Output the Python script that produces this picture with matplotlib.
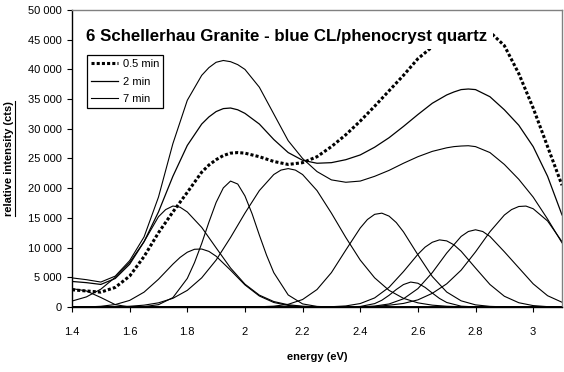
import matplotlib
matplotlib.use('Agg')
import matplotlib.pyplot as plt
from matplotlib.ticker import FuncFormatter, MultipleLocator
from matplotlib.lines import Line2D

plt.rcParams['font.family'] = ['Liberation Sans', 'DejaVu Sans']

# photon energy (eV) for the measured spectra
energy = [1.40, 1.45, 1.50, 1.55, 1.60, 1.65, 1.70, 1.75, 1.80, 1.85,
          1.875, 1.90, 1.925, 1.95, 1.975, 2.00, 2.05, 2.10, 2.15, 2.20,
          2.25, 2.30, 2.35, 2.40, 2.45, 2.50, 2.55, 2.60, 2.65, 2.70,
          2.725, 2.75, 2.775, 2.80, 2.85, 2.90, 2.95, 3.00, 3.05, 3.10]

# CL spectra after different irradiation times
spec_05min = [2900, 2700, 2500, 3300, 5200, 8500, 12500, 16000, 19300, 22700,
              23900, 24800, 25500, 25900, 26000, 25900, 25300, 24500, 24000, 24300,
              25300, 27000, 29000, 31300, 33800, 36400, 39000, 41800, 43800, 45500,
              46300, 46900, 47100, 47100, 46300, 44000, 39300, 33500, 27000, 20500]
spec_2min = [4300, 4100, 3800, 4800, 7200, 11000, 16000, 22000, 27200, 30800,
             32000, 32900, 33400, 33500, 33200, 32600, 30800, 28200, 26000, 24700,
             24200, 24300, 24800, 25600, 26900, 28500, 30400, 32400, 34300, 35700,
             36200, 36600, 36700, 36600, 35400, 33200, 30600, 27000, 22000, 15500]
spec_7min = [4900, 4600, 4200, 5200, 7800, 11800, 18500, 27500, 34800, 39000,
             40300, 41200, 41500, 41300, 40800, 40000, 37000, 32500, 28000, 25000,
             22800, 21400, 21000, 21200, 22000, 23000, 24200, 25300, 26200, 26800,
             27000, 27100, 27150, 27000, 26000, 24000, 21500, 18500, 14800, 10800]

# fitted emission bands: energy (eV) and intensity (cts)
band_140_e = [1.40, 1.45, 1.50, 1.55, 1.60, 3.10]
band_140_i = [3100, 2700, 1600, 400, 0, 0]

band_175_e = [1.40, 1.45, 1.50, 1.55, 1.60, 1.65, 1.70, 1.725, 1.75, 1.775,
              1.80, 1.85, 1.90, 1.95, 2.00, 2.05, 2.10, 2.15, 2.20, 2.25,
              2.30, 3.10]
band_175_i = [1000, 1700, 3000, 5000, 7500, 11000, 15200, 16400, 17000, 16800,
              16000, 13400, 9960, 6570, 3850, 2000, 920, 380, 140, 50,
              0, 0]

band_184_e = [1.40, 1.45, 1.50, 1.55, 1.60, 1.65, 1.70, 1.75, 1.775, 1.80,
              1.825, 1.85, 1.875, 1.90, 1.95, 2.00, 2.05, 2.10, 2.15, 2.20,
              2.25, 3.10]
band_184_i = [0, 0, 120, 410, 1110, 2500, 4670, 7210, 8350, 9220,
              9720, 9760, 9360, 8550, 6200, 3720, 1850, 760, 260, 70,
              0, 0]

band_195_e = [1.40, 1.60, 1.65, 1.70, 1.75, 1.80, 1.825, 1.85, 1.875, 1.90,
              1.925, 1.95, 1.975, 2.00, 2.025, 2.05, 2.075, 2.10, 2.15, 2.20,
              2.25, 2.30, 3.10]
band_195_i = [0, 0, 70, 390, 1580, 4810, 7470, 10700, 14280, 17600,
              20050, 21200, 20700, 18700, 15670, 12100, 8720, 5790, 2030, 520,
              100, 0, 0]

band_215_e = [1.40, 1.45, 1.50, 1.55, 1.60, 1.65, 1.70, 1.75, 1.80, 1.85,
              1.90, 1.95, 2.00, 2.05, 2.10, 2.125, 2.15, 2.175, 2.20, 2.25,
              2.30, 2.35, 2.40, 2.45, 2.50, 2.55, 2.60, 2.65, 2.70, 2.75,
              2.80, 2.85, 3.10]
band_215_i = [0, 0, 20, 50, 125, 310, 700, 1460, 2800, 4910,
              7900, 11700, 15800, 19600, 22300, 23050, 23300, 23050, 22300, 19600,
              15800, 11700, 7900, 4910, 2800, 1460, 700, 310, 125, 50,
              20, 0, 0]

band_247_e = [1.40, 2.00, 2.05, 2.10, 2.15, 2.20, 2.25, 2.30, 2.35, 2.40,
              2.425, 2.45, 2.475, 2.50, 2.525, 2.55, 2.60, 2.65, 2.70, 2.75,
              2.80, 2.85, 2.90, 2.95, 3.10]
band_247_i = [0, 0, 35, 140, 450, 1260, 2940, 5790, 9590, 13300,
              14730, 15600, 15800, 15300, 14220, 12650, 8790, 5130, 2520, 1040,
              360, 105, 25, 0, 0]

band_258_e = [1.40, 2.35, 2.40, 2.45, 2.475, 2.50, 2.525, 2.55, 2.575, 2.60,
              2.625, 2.65, 2.675, 2.70, 2.75, 2.80, 2.85, 3.10]
band_258_i = [0, 0, 90, 570, 1140, 1970, 2940, 3780, 4200, 4000,
              3300, 2350, 1440, 760, 140, 15, 0, 0]

band_268_e = [1.40, 2.25, 2.30, 2.35, 2.40, 2.45, 2.50, 2.55, 2.60, 2.625,
              2.65, 2.675, 2.70, 2.725, 2.75, 2.80, 2.85, 2.90, 2.95, 3.00,
              3.05, 3.10]
band_268_i = [0, 0, 50, 180, 580, 1530, 3320, 5960, 8870, 10080,
              10900, 11300, 11130, 10470, 9390, 6560, 3790, 1810, 720, 235,
              60, 15]

band_280_e = [1.40, 2.35, 2.40, 2.45, 2.50, 2.55, 2.60, 2.65, 2.70, 2.75,
              2.775, 2.80, 2.825, 2.85, 2.90, 2.95, 3.00, 3.05, 3.10]
band_280_i = [0, 0, 40, 160, 510, 1380, 3090, 5790, 9080, 11880,
              12710, 13000, 12710, 11880, 9300, 6600, 3900, 1900, 800]

band_296_e = [1.40, 2.40, 2.45, 2.50, 2.55, 2.60, 2.65, 2.70, 2.75, 2.80,
              2.85, 2.90, 2.925, 2.95, 2.975, 3.00, 3.05, 3.10]
band_296_i = [0, 0, 80, 300, 600, 1200, 2300, 3900, 6200, 9280,
              12670, 15480, 16400, 16920, 16990, 16540, 14480, 11000]

bands = [(band_140_e, band_140_i), (band_175_e, band_175_i),
         (band_184_e, band_184_i), (band_195_e, band_195_i),
         (band_215_e, band_215_i), (band_247_e, band_247_i),
         (band_258_e, band_258_i), (band_268_e, band_268_i),
         (band_280_e, band_280_i), (band_296_e, band_296_i)]

fig = plt.figure(figsize=(5.64, 3.72), dpi=100)
ax = fig.add_axes([72 / 564, 65 / 372, 490 / 564, 297 / 372])

for e, i in bands:
    ax.plot(e, i, color='black', lw=0.8)

ax.plot(energy, spec_05min, color='black', lw=2.2, ls=(0, (1.0, 0.7)),
        label='0.5 min')
ax.plot(energy, spec_2min, color='black', lw=0.9, label='2 min')
ax.plot(energy, spec_7min, color='black', lw=0.8, label='7 min')

ax.set_xlim(1.4, 3.1)
ax.set_ylim(0, 50000)
ax.xaxis.set_major_locator(MultipleLocator(0.2))
ax.yaxis.set_major_locator(MultipleLocator(5000))
ax.xaxis.set_major_formatter(FuncFormatter(lambda v, p: f'{v:g}'))
ax.yaxis.set_major_formatter(
    FuncFormatter(lambda v, p: f'{v:,.0f}'.replace(',', ' ')))
ax.tick_params(axis='x', direction='out', length=3.5, width=0.8,
               pad=11, labelsize=8)
ax.tick_params(axis='y', direction='out', length=3.6, width=0.8,
               pad=3.6, labelsize=8)

for side in ['left', 'bottom']:
    ax.spines[side].set_color('black')
    ax.spines[side].set_linewidth(1.0)
for side in ['top', 'right']:
    ax.spines[side].set_color('#808080')
    ax.spines[side].set_linewidth(1.0)

ax.text(0.029, 0.912, '6 Schellerhau Granite - blue CL/phenocryst quartz',
        transform=ax.transAxes, fontsize=12.2, fontweight='bold',
        ha='left', va='center', zorder=5,
        bbox=dict(facecolor='white', edgecolor='none', pad=4))

leg = ax.legend(loc='upper left', bbox_to_anchor=(0.03, 0.849),
                borderaxespad=0, fontsize=8, frameon=True, fancybox=False,
                framealpha=1, edgecolor='black', handlelength=2.5,
                handletextpad=0.4, labelspacing=0.7, borderpad=0.35)
leg.get_frame().set_linewidth(0.9)
leg.set_zorder(6)

ax.set_xlabel('energy (eV)', fontsize=8, fontweight='bold')
ax.xaxis.set_label_coords(0.5, -0.152)
ax.set_ylabel('relative intensity (cts)', fontsize=8, fontweight='bold')
ax.yaxis.set_label_coords(-0.118, 0.5)

# underline the rotated y label
renderer = fig.canvas.get_renderer()
bb = ax.yaxis.label.get_window_extent(renderer)
fig_w, fig_h = fig.bbox.width, fig.bbox.height
ux = (bb.x1 + 0.5) / fig_w
fig.add_artist(Line2D([ux, ux], [bb.y0 / fig_h, bb.y1 / fig_h],
                      transform=fig.transFigure, color='black', lw=0.8))

fig.savefig('out.png', dpi=100)
